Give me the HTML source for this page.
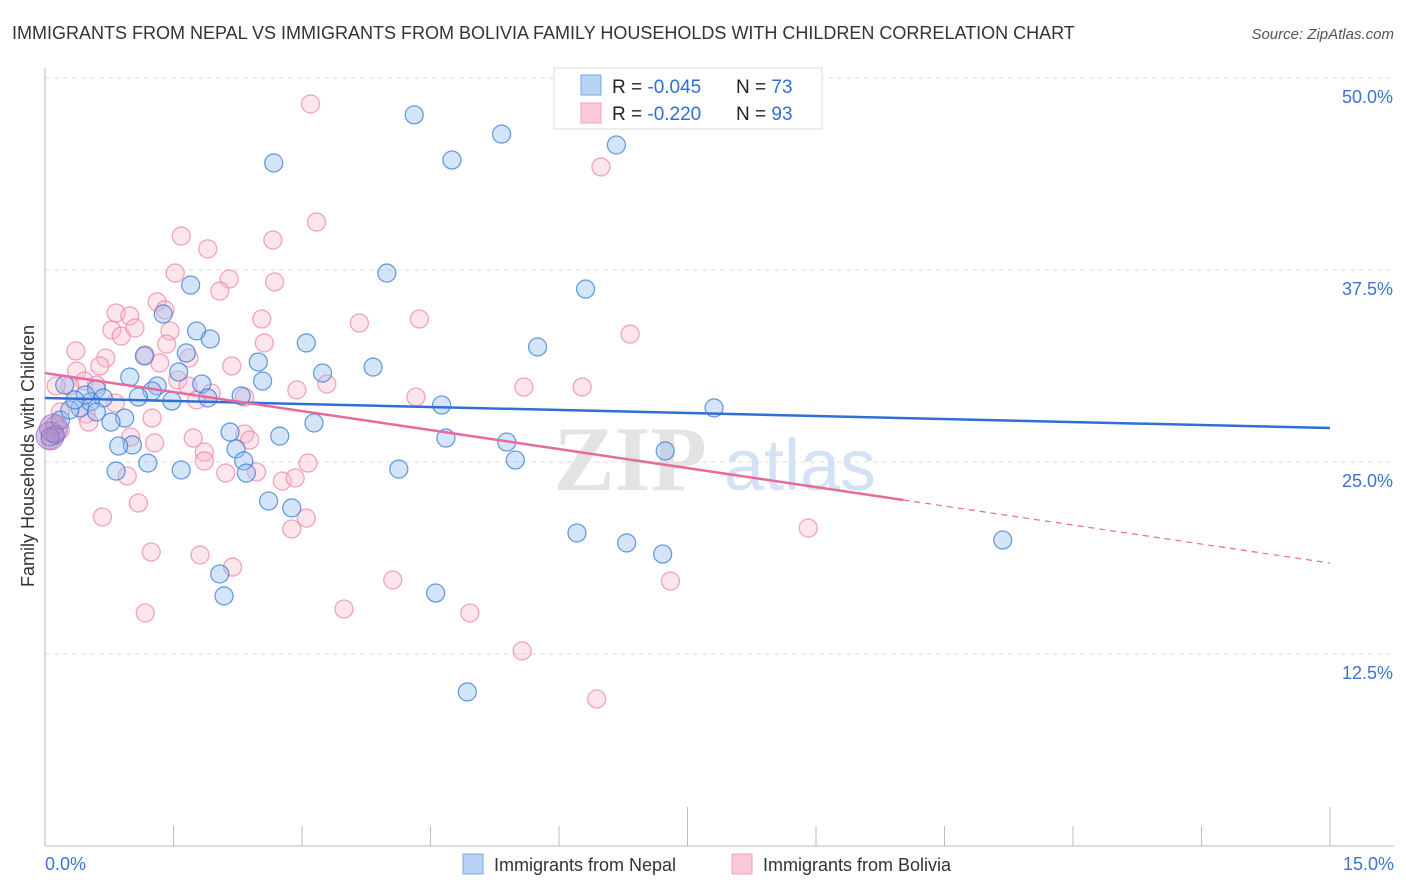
<!DOCTYPE html>
<html><head><meta charset="utf-8"><style>
body{margin:0;background:#fff;font-family:"Liberation Sans",sans-serif;}
svg{display:block}
</style></head><body>
<svg id="chart" width="1406" height="892" xmlns="http://www.w3.org/2000/svg">
<text x="12" y="39" font-size="18" fill="#333">IMMIGRANTS FROM NEPAL VS IMMIGRANTS FROM BOLIVIA FAMILY HOUSEHOLDS WITH CHILDREN CORRELATION CHART</text>
<text x="1394" y="39" font-size="15" fill="#555" font-style="italic" text-anchor="end">Source: ZipAtlas.com</text>
<g>
<text x="630" y="490" font-size="92" font-weight="bold" fill="#ddd" text-anchor="middle" font-family="Liberation Serif, serif" opacity="0.8">ZIP</text>
<text x="800" y="490" font-size="72" fill="#c9dbf2" text-anchor="middle" opacity="0.8">atlas</text>
</g>
<g id="grid"></g>
<g id="axes"></g>
<g id="points"></g>
<g id="lines"></g>
<text x="34" y="456" font-size="18" fill="#333" text-anchor="middle" transform="rotate(-90 34 456)">Family Households with Children</text>
<g>
<rect x="554" y="68" width="268" height="61" fill="#fff" stroke="#ddd"/>
<rect x="581" y="75" width="20" height="20" fill="#b8d3f5" stroke="#7aa7e6"/>
<rect x="581" y="103" width="20" height="20" fill="#fbc9d8" stroke="#f0a0b8"/>
<text x="612" y="93" font-size="19" fill="#222">R = <tspan fill="#2f6fd6"> -0.045</tspan></text>
<text x="736" y="93" font-size="19" fill="#222">N = <tspan fill="#2f6fd6">73</tspan></text>
<text x="612" y="120" font-size="19" fill="#222">R = <tspan fill="#2f6fd6"> -0.220</tspan></text>
<text x="736" y="120" font-size="19" fill="#222">N = <tspan fill="#2f6fd6">93</tspan></text>
</g>
<g>
<rect x="463" y="854" width="20" height="20" fill="#b8d3f5" stroke="#7aa7e6"/>
<text x="494" y="871" font-size="18" fill="#333">Immigrants from Nepal</text>
<rect x="732" y="854" width="20" height="20" fill="#fbc9d8" stroke="#f0a0b8"/>
<text x="763" y="871" font-size="18" fill="#333">Immigrants from Bolivia</text>
</g>
</svg>
<script>
const yTicks=[12.5,25,37.5,50];
const yTickLabels=["12.5%","25.0%","37.5%","50.0%"];
const xTickLabels=["0.0%","15.0%"];
const nepalX=[4.31,5.33,2.67,4.75,6.67,3.99,6.31,1.70,1.38,1.77,1.93,1.16,1.65,3.05,2.49,5.75,3.83,3.24,0.99,1.56,2.54,1.31,1.25,1.83,1.09,1.48,1.90,2.29,0.60,0.68,0.41,0.53,0.60,0.93,0.77,4.63,7.81,3.14,2.16,2.74,4.68,5.39,1.02,0.86,2.23,1.20,2.32,1.59,0.83,2.35,4.13,5.49,7.24,2.61,2.88,6.21,6.79,7.21,11.18,2.04,2.09,4.56,4.93,0.12,0.06,0.18,0.29,0.47,0.23,0.35];
const nepalY=[47.6,46.35,44.47,44.66,45.64,37.3,36.26,36.52,34.64,33.53,33.01,31.9,32.1,32.75,31.51,32.49,31.18,30.79,30.53,30.86,30.27,29.95,29.62,30.08,29.23,28.97,29.17,29.3,29.75,29.17,28.52,28.91,28.26,27.86,27.6,28.71,28.52,27.54,26.95,26.69,26.56,26.3,26.11,26.04,25.85,24.93,25.07,24.48,24.41,24.28,24.54,25.13,25.72,22.46,22.01,20.38,19.73,19.01,19.92,17.71,16.28,16.47,10.03,26.76,26.63,27.73,28.39,29.36,30.01,29.04];
const boliviaX=[3.10,6.49,3.17,1.59,1.90,2.66,1.52,2.15,2.04,2.68,1.31,1.40,0.83,0.99,2.53,3.67,4.37,6.83,0.78,0.89,1.05,1.46,1.42,0.36,0.71,1.17,1.68,2.18,2.56,1.34,0.37,0.64,1.55,1.67,0.46,0.60,0.29,0.13,3.29,2.94,4.33,5.59,6.27,2.33,0.82,1.77,1.94,1.25,0.48,0.51,0.18,1.00,1.28,1.73,1.86,2.33,2.39,1.86,2.11,2.47,3.07,2.77,2.92,0.96,1.09,0.67,3.05,2.88,8.91,1.24,1.81,2.19,4.06,7.30,1.17,3.49,4.96,5.57,6.44,0.18,0.06,0.12];
const boliviaY=[48.31,44.21,40.62,39.71,38.87,39.45,37.3,36.91,36.13,36.72,35.42,34.9,34.7,34.51,34.31,34.05,34.31,33.33,33.59,33.2,33.72,33.53,32.68,32.23,31.77,31.97,31.77,31.25,32.75,31.45,30.92,31.25,30.34,29.95,30.27,30.01,29.95,29.95,30.08,29.69,29.23,29.88,29.88,29.23,28.84,29.04,29.49,27.86,28.12,27.6,28.26,26.63,26.24,26.56,25.65,26.82,26.43,25.07,24.28,24.35,24.93,23.76,23.96,24.09,22.33,21.42,21.35,20.64,20.7,19.14,18.95,18.16,17.32,17.25,15.17,15.43,15.17,12.7,9.57,27.08,26.43,27.41];
const bigX=[0.06,0.1];
const bigY=[26.7,27.2];
const nepalTrend=[29.17,27.21];
const boliviaTrend=[30.79,18.42];
const boliviaSolidEnd=10.02;

const NS="http://www.w3.org/2000/svg";
const X0=45,X1=1330,YB=846;
function sx(v){return X0+(v/15)*(X1-X0);}
function sy(v){return YB-(v/12.5)*192;}
function mk(tag,attrs,parent){const e=document.createElementNS(NS,tag);for(const k in attrs)e.setAttribute(k,attrs[k]);parent.appendChild(e);return e;}
const grid=document.getElementById('grid'),axes=document.getElementById('axes'),pts=document.getElementById('points'),lines=document.getElementById('lines');
yTicks.forEach((t,i)=>{
  const l=mk('line',{x1:X0,x2:1394,y1:sy(t),y2:sy(t),stroke:'#ddd','stroke-dasharray':'5,4'},grid);
  
  
  const tx=mk('text',{x:1393,y:sy(t)+25,'font-size':18,fill:'#3b74d1','text-anchor':'end'},axes);
  tx.textContent=yTickLabels[i];
  
  
});
const ya=mk('line',{x1:X0,x2:X0,y1:68,y2:YB,stroke:'#bbb'},axes);


const xa=mk('line',{x1:X0,x2:1394,y1:YB,y2:YB,stroke:'#bbb'},axes);


for(let i=0;i<=10;i++){
  const v=i*1.5;
  const tk=mk('line',{x1:sx(v),x2:sx(v),y1:(i%5==0?807:826),y2:YB,stroke:'#bbb'},axes);
  
  
}
const xl0=mk('text',{x:45,y:870,'font-size':18,fill:'#3b74d1'},axes);
xl0.textContent=xTickLabels[0];


const xl1=mk('text',{x:1394,y:870,'font-size':18,fill:'#3b74d1','text-anchor':'end'},axes);
xl1.textContent=xTickLabels[1];



function draw(xs,ys,fill,stroke,name,r){
  xs.forEach((x,i)=>{
    const c=mk('circle',{cx:sx(x),cy:sy(ys[i]),r:r,fill:fill,stroke:stroke,'stroke-width':1.3},pts);
    
    
  });
}
draw(boliviaX,boliviaY,'rgba(248,180,200,0.35)','rgba(236,130,165,0.7)','bolivia-point',9);
draw(nepalX,nepalY,'rgba(150,190,240,0.4)','rgba(60,125,215,0.75)','nepal-point',9);
draw(bigX,bigY,'rgba(170,120,190,0.4)','rgba(140,110,200,0.6)','cluster-point',14);

const nl=mk('line',{x1:sx(0),y1:sy(nepalTrend[0]),x2:sx(15),y2:sy(nepalTrend[1]),stroke:'#2f6fd6','stroke-width':2.5},lines);


const bAt=v=>boliviaTrend[0]+(boliviaTrend[1]-boliviaTrend[0])*v/15;
const bl=mk('line',{x1:sx(0),y1:sy(bAt(0)),x2:sx(boliviaSolidEnd),y2:sy(bAt(boliviaSolidEnd)),stroke:'#e8699a','stroke-width':2.5},lines);


const bd=mk('line',{x1:sx(boliviaSolidEnd),y1:sy(bAt(boliviaSolidEnd)),x2:sx(15),y2:sy(bAt(15)),stroke:'#e8699a','stroke-width':1.2,'stroke-dasharray':'6,5'},lines);


</script>
</body></html>
